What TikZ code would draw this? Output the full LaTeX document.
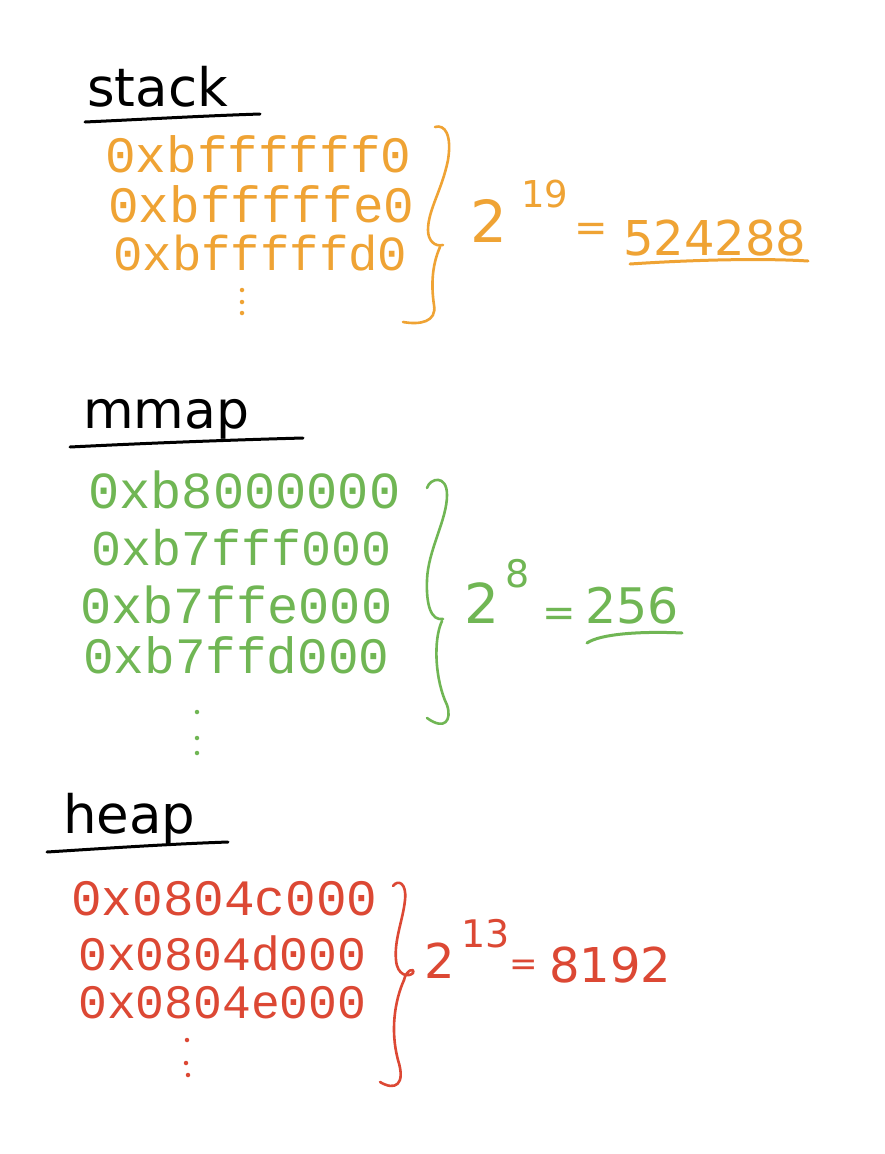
\documentclass[tikz,border=0pt]{standalone}
\usepackage{fontspec}
\setmainfont{DejaVu Sans}
\newfontfamily\addrfont{Liberation Mono}
\newcommand\fsz[1]{\fontsize{#1}{#1}\selectfont}
\definecolor{stackc}{RGB}{239,163,52}
\definecolor{mmapc}{RGB}{112,182,84}
\definecolor{heapc}{RGB}{220,72,52}
\tikzset{
  title/.style={anchor=base west, inner sep=0pt, text=black},
  addr/.style={anchor=base west, inner sep=0pt},
  eqtxt/.style={anchor=base west, inner sep=0pt},
  uline/.style={line width=3pt, line cap=round},
  brace/.style={line width=2.6pt, line cap=round, line join=round},
  dotmark/.style={circle, inner sep=0pt, minimum size=4.5pt}
}
\begin{document}
\begin{tikzpicture}[x=1pt,y=-1pt]
\useasboundingbox (0,0) rectangle (884,1154);
\fill[white] (0,0) rectangle (884,1154);

% ---------------- stack ----------------
\node[title, font=\fsz{53}] (stack) at (87,106) {stack};
\draw[uline] (85,122) .. controls (150,119) and (200,116) .. (260,114);
\node[addr, text=stackc, font=\addrfont\fsz{51}] (s1) at (105,172) {0xbffffff0};
\node[addr, text=stackc, font=\addrfont\fsz{51}] (s2) at (108,222) {0xbfffffe0};
\node[addr, text=stackc, font=\addrfont\fsz{49}] (s3) at (113,270) {0xbfffffd0};
\node[dotmark, fill=stackc] (sd1) at (242,290) {};
\node[dotmark, fill=stackc] (sd2) at (242,302) {};
\node[dotmark, fill=stackc] (sd3) at (242,313) {};
\draw[brace, stackc] (435,127) .. controls (445,124) and (452,135) .. (448,160)
   .. controls (442,190) and (428,210) .. (428,230)
   .. controls (428,241) and (435,247) .. (443,245);
\draw[brace, stackc] (440,247) .. controls (432,265) and (431,285) .. (434,305)
   .. controls (437,322) and (420,325) .. (403,322);
\node[eqtxt, text=stackc, font=\fsz{58}] (sbase) at (470,242) {2};
\node[eqtxt, text=stackc, font=\fsz{37}] (sexp) at (521,207) {19};
\node[text=stackc, font=\fsz{40}, inner sep=0pt] (seq) at (591,232) {=};
\node[eqtxt, text=stackc, font=\fsz{48}] (sval) at (623,255) {524288};
\draw[uline, stackc] (630,264) .. controls (690,260) and (760,258) .. (808,261);

% ---------------- mmap ----------------
\node[title, font=\fsz{52}] (mmap) at (83,428) {mmap};
\draw[uline] (70,447) .. controls (150,443) and (230,440) .. (303,438);
\node[addr, text=mmapc, font=\addrfont\fsz{52}] (g1) at (88,508) {0xb8000000};
\node[addr, text=mmapc, font=\addrfont\fsz{50}] (g2) at (91,565) {0xb7fff000};
\node[addr, text=mmapc, font=\addrfont\fsz{52}] (g3) at (80,623) {0xb7ffe000};
\node[addr, text=mmapc, font=\addrfont\fsz{51}] (g4) at (83,673) {0xb7ffd000};
\node[dotmark, fill=mmapc] (gd1) at (197,712) {};
\node[dotmark, fill=mmapc] (gd2) at (197,738) {};
\node[dotmark, fill=mmapc] (gd3) at (197,753) {};
\draw[brace, mmapc] (427,488) .. controls (430,478) and (447,474) .. (447,495)
   .. controls (447,520) and (428,550) .. (427,580)
   .. controls (426,605) and (431,621) .. (443,619);
\draw[brace, mmapc] (442,621) .. controls (433,640) and (435,680) .. (447,705)
   .. controls (452,720) and (445,731) .. (427,718);
\node[eqtxt, text=mmapc, font=\fsz{55}] (gbase) at (464,623) {2};
\node[eqtxt, text=mmapc, font=\fsz{38}] (gexp) at (505,587) {8};
\node[text=mmapc, font=\fsz{40}, inner sep=0pt] (geq) at (559,617) {=};
\node[eqtxt, text=mmapc, font=\fsz{49}] (gval) at (585,623) {256};
\draw[uline, mmapc] (587,643) .. controls (600,634) and (640,631) .. (682,633);

% ---------------- heap ----------------
\node[title, font=\fsz{53}] (heap) at (63,833) {heap};
\draw[uline] (47,852) .. controls (110,848) and (170,844) .. (228,842);
\node[addr, text=heapc, font=\addrfont\fsz{51}] (h1) at (71,915) {0x0804c000};
\node[addr, text=heapc, font=\addrfont\fsz{48}] (h2) at (78,970) {0x0804d000};
\node[addr, text=heapc, font=\addrfont\fsz{48}] (h3) at (78,1018) {0x0804e000};
\node[dotmark, fill=heapc] (hd1) at (187,1040) {};
\node[dotmark, fill=heapc] (hd2) at (186,1063) {};
\node[dotmark, fill=heapc] (hd3) at (188,1075) {};
\draw[brace, heapc] (393,886) .. controls (398,879) and (407,883) .. (405,900)
   .. controls (403,920) and (394,940) .. (396,960)
   .. controls (397,975) and (408,978) .. (413,973)
   .. controls (415,967) and (406,970) .. (404,980);
\draw[brace, heapc] (404,980) .. controls (395,1000) and (390,1030) .. (398,1060)
   .. controls (406,1085) and (395,1091) .. (380,1082);
\node[eqtxt, text=heapc, font=\fsz{48}] (hbase) at (424,978) {2};
\node[eqtxt, text=heapc, font=\fsz{38}] (hexp) at (461,947) {13};
\node[text=heapc, font=\fsz{34}, inner sep=0pt] (heq) at (524,968) {=};
\node[eqtxt, text=heapc, font=\fsz{48}] (hval) at (549,982) {8192};
\end{tikzpicture}
\end{document}
